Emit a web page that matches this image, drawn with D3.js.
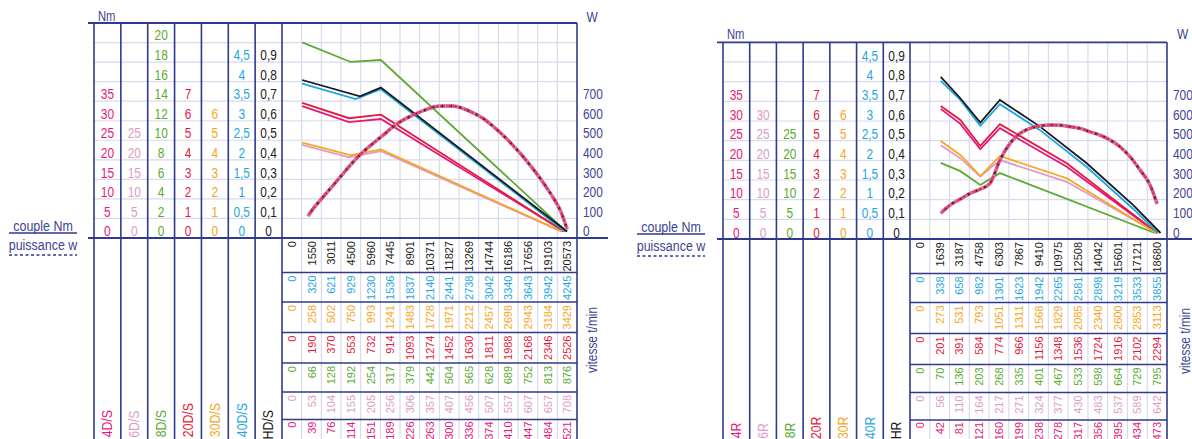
<!DOCTYPE html>
<html><head><meta charset="utf-8">
<script src="https://cdn.jsdelivr.net/npm/d3@7"></script>
<style>
body{margin:0;background:#fff;}
svg{display:block;font-family:"Liberation Sans",Arial,sans-serif;}
</style></head><body>
<svg id="c" width="1192" height="439"></svg>
<script>
// ---------- DATA ----------
const seriesColors = ["#e5177d","#dc9cc9","#5caa32","#e5193c","#f7a51d","#1ea7e1","#1a1a1a"];
const modelsA = ["4D/S","6D/S","8D/S","20D/S","30D/S","40D/S","HD/S"];
const modelsB = ["4R","6R","8R","20R","30R","40R","HR"];
const unitsA = [5,5,2,1,1,0.5,0.1];
const maxA   = [35,25,20,7,6,4.5,0.9];
const unitsB = [5,5,5,1,1,0.5,0.1];
const maxB   = [35,30,25,7,6,4.5,0.9];
const wattTicks = [0,100,200,300,400,500,600,700];

// speed tables (series order: pink, lightpink, green, red, orange, cyan, black)
const speedA_pink  = [0,39,76,114,151,189,226,263,300,336,374,410,447,484,521];
const speedA_lpink = [0,53,104,155,205,256,306,357,407,456,507,557,607,657,708];
const speedA_green = [0,66,128,192,254,317,379,442,504,565,628,689,752,813,876];
const speedA_red   = [0,190,370,553,732,914,1093,1274,1452,1630,1811,1988,2168,2346,2526];
const speedA_orange= [0,258,502,750,993,1241,1483,1728,1971,2212,2457,2698,2943,3184,3429];
const speedA_cyan  = [0,320,621,929,1230,1536,1837,2140,2441,2738,3042,3340,3643,3942,4245];
const speedA_black = [0,1550,3011,4500,5960,7445,8901,10371,11827,13269,14744,16186,17656,19103,20573];

const speedB_pink  = [0,42,81,121,160,199,238,278,317,356,395,434,473];
const speedB_lpink = [0,56,110,164,217,271,324,377,430,483,537,589,642];
const speedB_green = [0,70,136,203,268,335,401,467,533,598,664,729,795];
const speedB_red   = [0,201,391,584,774,966,1156,1348,1536,1724,1916,2102,2294];
const speedB_orange= [0,273,531,793,1051,1311,1568,1829,2085,2340,2600,2853,3113];
const speedB_cyan  = [0,338,658,982,1301,1623,1942,2265,2581,2898,3219,3533,3855];
const speedB_black = [0,1639,3187,4758,6303,7867,9410,10975,12508,14042,15601,17121,18680];

// torque curves [motor speed t/min, torque in the series' own unit]
const torqueA_pink  = [[774,32.0],[4272,27.9],[6654,28.7],[20350,0]];
const torqueA_lpink = [[774,22.1],[4272,18.9],[6654,20.5],[20130,0]];
const torqueA_green = [[774,19.3],[4399,17.3],[6654,17.5],[20500,0]];
const torqueA_red   = [[774,6.56],[4272,5.78],[6654,5.96],[20350,0]];
const torqueA_orange= [[774,4.53],[4421,3.89],[6654,4.19],[20200,0]];
const torqueA_cyan  = [[774,3.77],[4771,3.38],[6654,3.63],[20425,0]];
const torqueA_black = [[774,0.773],[5091,0.69],[6654,0.734],[20573,0]];
const powerA = [[1198,79],[1615,118],[2360,178],[3104,237],[3848,297],[4593,356],[5337,407],[6081,450],[6826,492],[7570,535],[8314,569],[9059,594],[9803,616],[10547,634],[11291,640],[12036,640],[12780,628],[13524,606],[14269,578],[15013,538],[15757,492],[16502,441],[17246,385],[17990,322],[18735,254],[19479,178],[20104,101],[20573,10]];

const torqueB_pink  = [[1639,31.5],[3187,27.7],[4758,21.3],[6303,26.6],[11561,16.8],[18680,0]];
const torqueB_lpink = [[1639,22.3],[3187,19.0],[4758,14.3],[6303,18.5],[11561,13.0],[18680,0]];
const torqueB_green = [[1639,17.8],[3187,15.7],[4758,12.2],[6303,15.2],[18500,0]];
const torqueB_red   = [[1639,6.45],[3187,5.74],[4758,4.42],[6303,5.52],[11561,3.54],[18680,0]];
const torqueB_orange= [[1639,4.67],[3187,3.96],[4758,2.89],[6303,3.91],[11561,2.78],[18600,0]];
const torqueB_cyan  = [[1639,3.86],[3187,3.38],[4758,2.72],[6303,3.27],[9460,2.61],[13138,1.675],[16800,0.61],[18750,0]];
const torqueB_black = [[1639,0.793],[3187,0.684],[4758,0.56],[6303,0.675],[9460,0.54],[13138,0.354],[16800,0.142],[18950,0]];
const powerB = [[1639,100],[2370,142],[3158,171],[3946,201],[4733,222],[5521,252],[6309,371],[7096,455],[7884,506],[8672,531],[9460,543],[10247,548],[11035,547],[11822,540],[12610,531],[13398,514],[14185,497],[14973,472],[15760,438],[16548,387],[17336,320],[18123,244],[18680,148]];

// ---------- DRAW ----------
const NAVY = "#2f3a8f", NAVYT = "#3c4494", GRID = "#d9d9ef";
const svg = d3.select("#c");
const fmt = d3.formatLocale({decimal:",",thousands:" ",grouping:[3],currency:["",""]}).format(".2~f");
const tableOrder = [6,5,4,3,2,1,0]; // black, cyan, orange, red, green, lightpink, pink
const SX = 0.85; // condensed look

function txt(g, x, y, s, o){
  o = o || {};
  const rot = o.rot ? " rotate(-90)" : "";
  return g.append("text")
    .attr("transform", `translate(${x},${y})${rot} scale(${o.sx || SX},1)`)
    .attr("text-anchor", o.anchor || "middle")
    .attr("dominant-baseline", "central")
    .attr("font-size", o.size || 14)
    .attr("fill", o.fill || NAVYT)
    .text(s);
}

function panel(c){
  const g = svg.append("g");
  const nCols = c.speeds[6].length;
  const xCol = d3.scaleBand().domain(d3.range(nCols)).range([c.plotX0, c.plotX1]);
  const bw = xCol.bandwidth();
  const xSpeed = d3.scaleLinear().domain([0, d3.max(c.speeds[6])]).range([xCol(0)+bw/2, xCol(nCols-1)+bw/2]);
  const xLab = d3.scaleBand().domain(d3.range(7)).range([c.labX0, c.plotX0]);
  const yRow = d3.scaleLinear().domain([0, c.nRows]).range([c.bottom, c.top]);
  const ySer = c.units.map(u => d3.scaleLinear().domain([0, u*10]).range([c.y0, c.y0 - 10*c.step]));
  const yW = d3.scaleLinear().domain([0, 1000]).range([c.y0, c.y0 - 10*c.step]);

  d3.range(1, c.nRows).forEach(k => {
    g.append("line").attr("x1", c.labX0).attr("x2", c.plotX1).attr("y1", yRow(k)).attr("y2", yRow(k))
      .attr("stroke", GRID).attr("stroke-width", 1.2);
  });
  d3.range(1, nCols).forEach(i => {
    g.append("line").attr("x1", xCol(i)).attr("x2", xCol(i)).attr("y1", c.top).attr("y2", 439)
      .attr("stroke", GRID).attr("stroke-width", 1.2);
  });
  c.tableLines.forEach(y => {
    g.append("line").attr("x1", c.plotX0).attr("x2", c.plotX1).attr("y1", y).attr("y2", y)
      .attr("stroke", NAVY).attr("stroke-width", 1.6);
  });
  d3.range(8).forEach(i => {
    const x = i < 7 ? xLab(i) : c.plotX0;
    g.append("line").attr("x1", x).attr("x2", x).attr("y1", c.top).attr("y2", 439)
      .attr("stroke", NAVY).attr("stroke-width", 1.6);
  });
  g.append("line").attr("x1", c.plotX1).attr("x2", c.plotX1).attr("y1", c.top).attr("y2", 439)
    .attr("stroke", NAVY).attr("stroke-width", 1.6);
  g.append("line").attr("x1", c.lineX0).attr("x2", c.plotX1).attr("y1", c.top).attr("y2", c.top)
    .attr("stroke", NAVY).attr("stroke-width", 1.8);
  g.append("line").attr("x1", c.lineX0).attr("x2", c.lineX1).attr("y1", c.bottom).attr("y2", c.bottom)
    .attr("stroke", NAVY).attr("stroke-width", 1.8);

  // torque labels
  c.units.forEach((u, i) => {
    const n = Math.round(c.max[i] / u);
    d3.range(0, n + 1).forEach(k => {
      const v = k * u;
      txt(g, xLab(i) + xLab.bandwidth()/2, ySer[i](v), fmt(v), {fill: seriesColors[i], size: 14});
    });
  });
  // model names
  c.models.forEach((m, i) => {
    txt(g, xLab(i) + xLab.bandwidth()/2, c.modelTop[i], m, {rot: true, anchor: "end", fill: seriesColors[i], size: 14.5});
  });
  // speed tables
  tableOrder.forEach((s, r) => {
    const yTop = c.tableLines[r];
    c.speeds[s].forEach((v, ci) => {
      txt(g, xCol(ci) + bw/2, yTop + (r === 6 ? 2 : 3), v, {rot: true, anchor: "end", fill: seriesColors[s], size: 11, sx: 1});
    });
  });

  // W axis
  wattTicks.forEach(v => { txt(g, c.plotX1 + 6, yW(v), v, {anchor: "start"}); });
  txt(g, c.wX, c.wY, "W");
  txt(g, c.nmX, c.nmY, "Nm", {anchor: "start", sx: 0.8});
  txt(g, c.vitX, c.vitY, "vitesse t/min", {rot: true});

  // legend
  txt(g, c.legX, c.legY - 7, "couple Nm", {size: 14.5, sx: 0.86});
  g.append("line").attr("x1", c.legX - 34).attr("x2", c.legX + 34).attr("y1", c.legY).attr("y2", c.legY)
    .attr("stroke", NAVY).attr("stroke-width", 1.6);
  txt(g, c.legX, c.legY + 12, "puissance w", {size: 14.5, sx: 0.86});
  g.append("line").attr("x1", c.legX - 34).attr("x2", c.legX + 34).attr("y1", c.legY + 22).attr("y2", c.legY + 22)
    .attr("stroke", NAVY).attr("stroke-width", 1.6).attr("stroke-dasharray", "3,2.5");

  // curves
  const clip = "clip" + c.id;
  svg.append("defs").append("clipPath").attr("id", clip).append("rect")
    .attr("x", c.plotX0).attr("y", c.top).attr("width", c.plotX1 - c.plotX0).attr("height", c.bottom - c.top);
  const cg = g.append("g").attr("clip-path", `url(#${clip})`);
  c.torque.forEach((d, i) => {
    const line = d3.line().x(p => xSpeed(p[0])).y(p => ySer[i](p[1]));
    cg.append("path").attr("d", line(d)).attr("fill", "none").attr("stroke", seriesColors[i]).attr("stroke-width", 1.8);
  });
  const pl = d3.line().x(p => xSpeed(p[0])).y(p => yW(p[1])).curve(d3.curveMonotoneX);
  const pd = pl(c.power);
  cg.append("path").attr("d", pd).attr("fill", "none").attr("stroke", "#e8407f").attr("stroke-width", 3.4);
  cg.append("path").attr("d", pd).attr("fill", "none").attr("stroke", "#a8a8a8").attr("stroke-width", 3.4).attr("stroke-dasharray", "1.6,4.4");
  cg.append("path").attr("d", pd).attr("fill", "none").attr("stroke", "#2a2a2a").attr("stroke-width", 2.4).attr("stroke-dasharray", "1.5,7.5").attr("stroke-dashoffset", 3);
  cg.append("path").attr("d", pd).attr("fill", "none").attr("stroke", "#e5193c").attr("stroke-width", 1.2).attr("stroke-dasharray", "2,4").attr("stroke-dashoffset", 1.5);
}

panel({
  id: "A", labX0: 94, plotX0: 282, plotX1: 577, top: 23, bottom: 238, nRows: 11, y0: 231.5, step: 19.6,
  lineX0: 88, lineX1: 608, tableLines: [238, 272.5, 302, 332.5, 363, 392, 419.5],
  units: unitsA, max: maxA, models: modelsA, modelTop: [410, 410.5, 410, 403, 403, 403, 410],
  speeds: [speedA_pink, speedA_lpink, speedA_green, speedA_red, speedA_orange, speedA_cyan, speedA_black],
  torque: [torqueA_pink, torqueA_lpink, torqueA_green, torqueA_red, torqueA_orange, torqueA_cyan, torqueA_black],
  power: powerA, wX: 592, wY: 17, nmX: 98, nmY: 16.5, vitX: 592, vitY: 340, legX: 43, legY: 233
});
panel({
  id: "B", labX0: 723, plotX0: 910, plotX1: 1167, top: 42.3, bottom: 239, nRows: 10, y0: 233, step: 19.7,
  lineX0: 717, lineX1: 1192, tableLines: [239, 273.5, 302.5, 333.5, 364.5, 392.5, 420],
  units: unitsB, max: maxB, models: modelsB, modelTop: [422.5, 423, 422.5, 416.5, 416.5, 416.5, 421.5],
  speeds: [speedB_pink, speedB_lpink, speedB_green, speedB_red, speedB_orange, speedB_cyan, speedB_black],
  torque: [torqueB_pink, torqueB_lpink, torqueB_green, torqueB_red, torqueB_orange, torqueB_cyan, torqueB_black],
  power: powerB, wX: 1182.5, wY: 34, nmX: 727, nmY: 35, vitX: 1185, vitY: 341, legX: 671, legY: 234
});
</script>
</body></html>
